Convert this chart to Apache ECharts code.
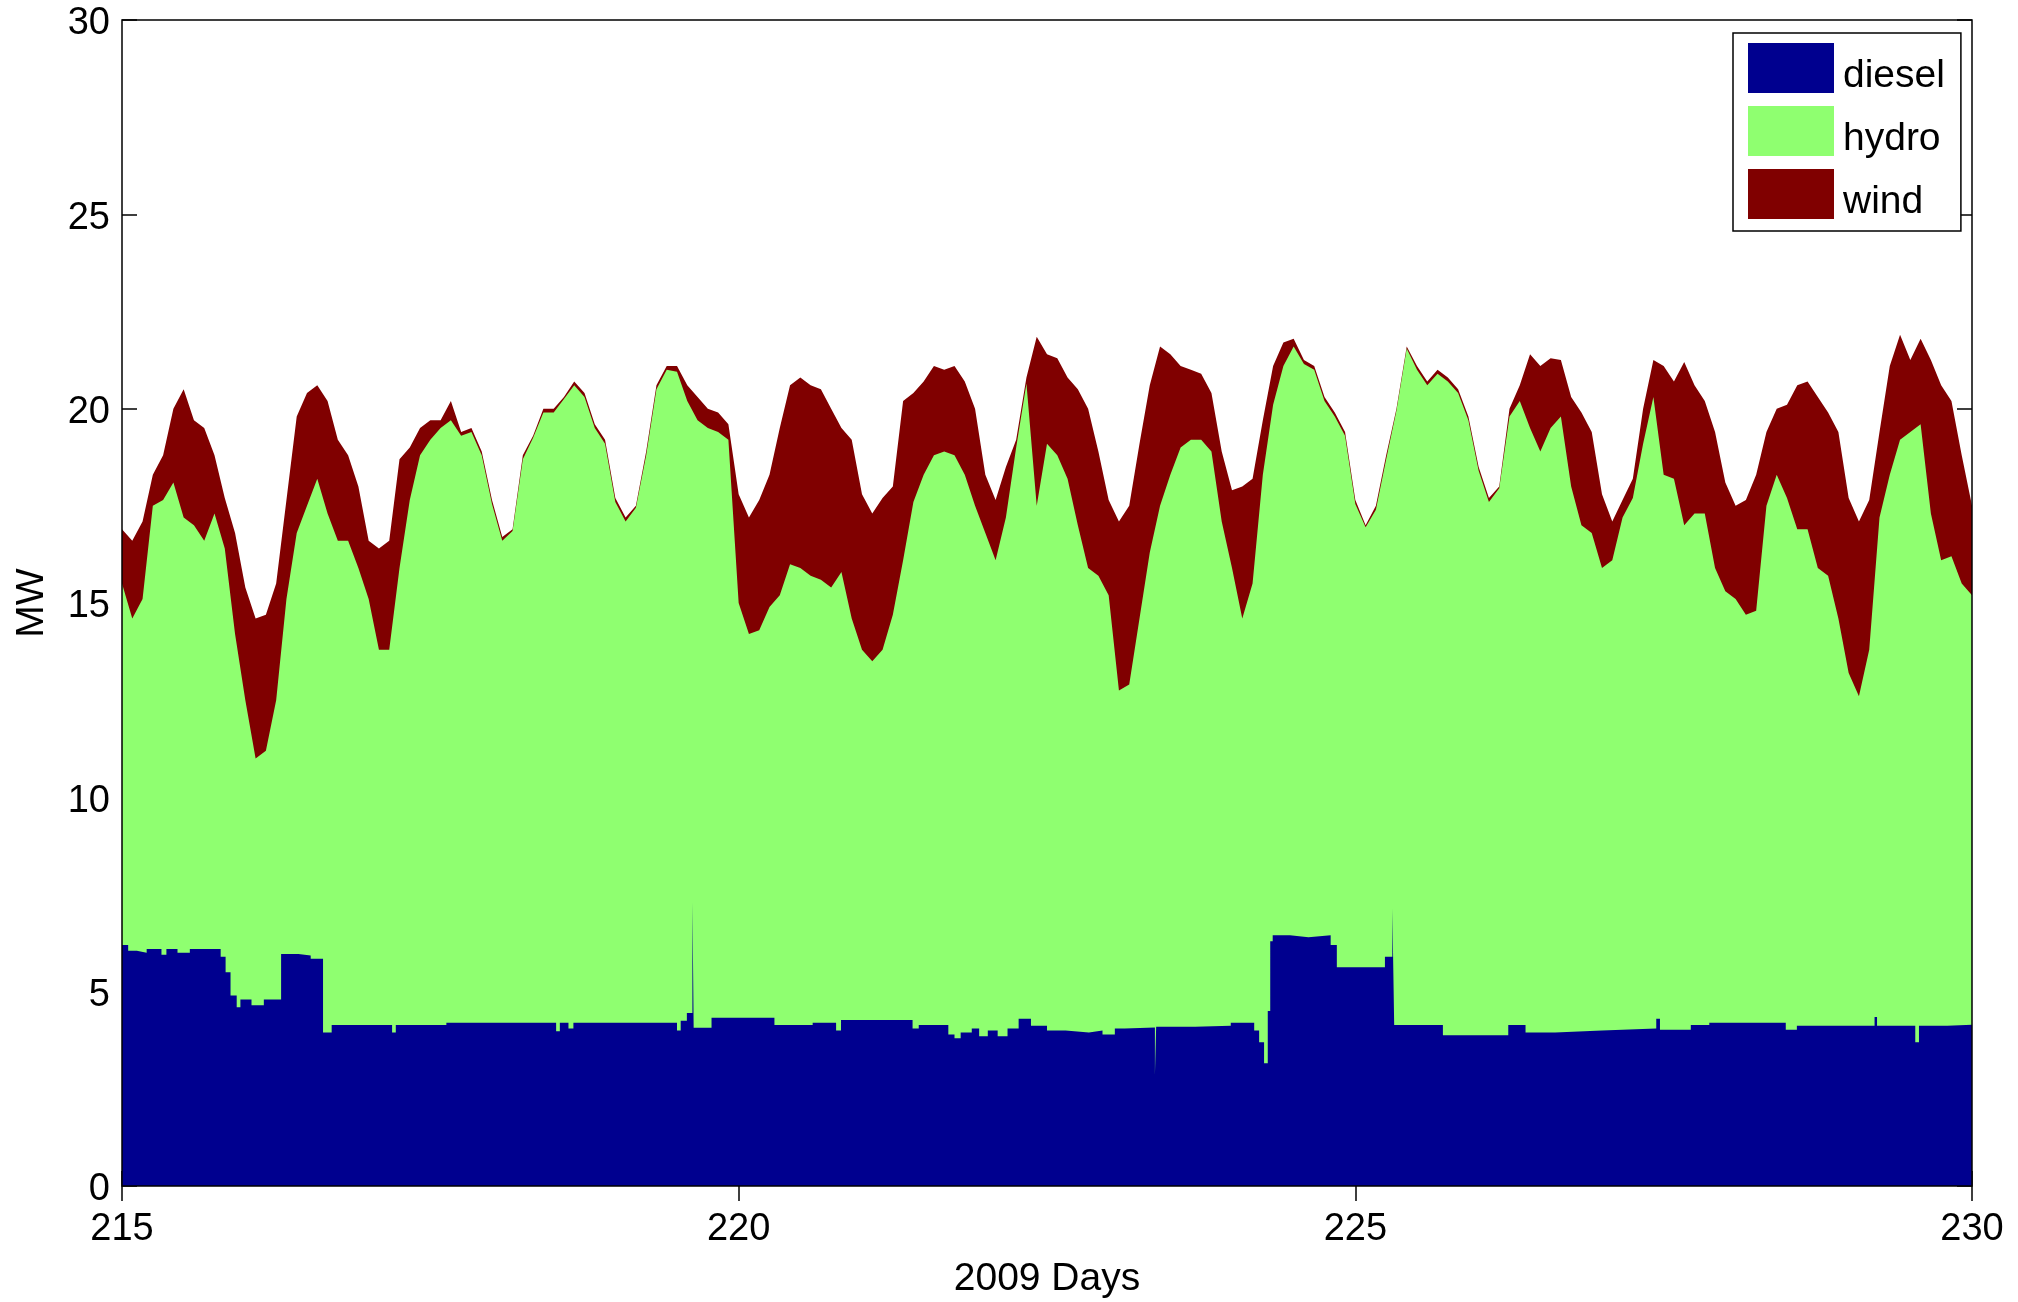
<!DOCTYPE html>
<html>
<head>
<meta charset="utf-8">
<script src="https://cdn.jsdelivr.net/npm/echarts@6/dist/echarts.min.js"></script>
<style>
html,body{margin:0;padding:0;background:#fff;}
#chart{width:2018px;height:1302px;}
</style>
</head>
<body>
<div id="chart"></div>
<script>
// ---- Data ----
const seriesNames = ['diesel', 'hydro', 'wind'];
const xTicks = [215, 220, 225, 230];
const yTicks = [0, 5, 10, 15, 20, 25, 30];

// sampling of the stacked boundaries: every 2 hours from day 215 to day 230
const startDay = 215;
const stepDay = 1 / 12;

// top of the stack (diesel + hydro + wind), MW
const totalMW = [
  16.9, 16.6, 17.1, 18.3, 18.8, 20.0, 20.5, 19.7, 19.5, 18.8, 17.7, 16.8, 15.4, 14.6, 14.7, 15.5, 17.65, 19.8, 20.4, 20.6, 20.2, 19.2, 18.8, 18.0, 16.6, 16.4, 16.6, 18.7, 19.0, 19.5, 19.7, 19.7, 20.2, 19.4, 19.5, 18.9,
  17.65, 16.7, 16.9, 18.8, 19.3, 20.0, 20.0, 20.3, 20.7, 20.4, 19.6, 19.2, 17.7, 17.2, 17.5, 18.9, 20.6, 21.1, 21.1, 20.6, 20.3, 20.0, 19.9, 19.6, 17.8, 17.2, 17.65, 18.3, 19.5, 20.6, 20.8, 20.6, 20.5, 20.0, 19.5, 19.2,
  17.8, 17.3, 17.7, 18.0, 20.2, 20.4, 20.7, 21.1, 21.0, 21.1, 20.7, 20.0, 18.3, 17.65, 18.5, 19.2, 20.8, 21.85, 21.4, 21.3, 20.8, 20.5, 20.0, 18.9, 17.65, 17.1, 17.5, 19.1, 20.6, 21.6, 21.4, 21.1, 21.0, 20.9, 20.4, 18.9,
  17.9, 18.0, 18.2, 19.7, 21.1, 21.7, 21.8, 21.25, 21.1, 20.3, 19.9, 19.4, 17.65, 17.0, 17.5, 18.8, 20.0, 21.6, 21.1, 20.7, 21.0, 20.8, 20.5, 19.8, 18.5, 17.7, 18.0, 20.0, 20.6, 21.4, 21.1, 21.3, 21.25, 20.3, 19.9, 19.4,
  17.8, 17.1, 17.65, 18.2, 20.0, 21.25, 21.1, 20.7, 21.2, 20.6, 20.2, 19.4, 18.1, 17.5, 17.65, 18.3, 19.4, 20.0, 20.1, 20.6, 20.7, 20.3, 19.9, 19.4, 17.7, 17.1, 17.65, 19.4, 21.1, 21.9, 21.25, 21.8, 21.25, 20.6, 20.2, 18.8, 17.5
];

// top of the hydro layer (diesel + hydro), MW
const dieselPlusHydroMW = [
  15.5, 14.6, 15.1, 17.5, 17.65, 18.1, 17.2, 17.0, 16.6, 17.3, 16.4, 14.2, 12.5, 11.0, 11.2, 12.5, 15.1, 16.8, 17.5, 18.2, 17.3, 16.6, 16.6, 15.9, 15.1, 13.8, 13.8, 15.9, 17.65, 18.8, 19.2, 19.5, 19.7, 19.3, 19.4, 18.8,
  17.55, 16.6, 16.85, 18.7, 19.25, 19.9, 19.9, 20.25, 20.6, 20.3, 19.5, 19.1, 17.6, 17.1, 17.45, 18.8, 20.5, 21.0, 20.95, 20.2, 19.7, 19.5, 19.4, 19.2, 15.0, 14.2, 14.3, 14.9, 15.2, 16.0, 15.9, 15.7, 15.6, 15.4, 15.8, 14.6,
  13.8, 13.5, 13.8, 14.7, 16.1, 17.6, 18.3, 18.8, 18.9, 18.8, 18.3, 17.5, 16.8, 16.1, 17.2, 19.0, 20.65, 17.5, 19.1, 18.8, 18.2, 17.0, 15.9, 15.7, 15.2, 12.75, 12.9, 14.6, 16.3, 17.5, 18.3, 19.0, 19.2, 19.2, 18.9, 17.1,
  15.9, 14.6, 15.5, 18.3, 20.1, 21.1, 21.6, 21.15, 21.0, 20.2, 19.8, 19.3, 17.55, 16.95, 17.4, 18.7, 19.95, 21.55, 21.0, 20.6, 20.9, 20.7, 20.4, 19.7, 18.4, 17.6, 17.95, 19.8, 20.2, 19.5, 18.9, 19.5, 19.8, 18.0, 17.0, 16.8,
  15.9, 16.1, 17.2, 17.7, 19.1, 20.3, 18.3, 18.2, 17.0, 17.3, 17.3, 15.9, 15.3, 15.1, 14.7, 14.8, 17.5, 18.3, 17.7, 16.9, 16.9, 15.9, 15.7, 14.6, 13.2, 12.6, 13.8, 17.2, 18.3, 19.2, 19.4, 19.6, 17.3, 16.1, 16.2, 15.5, 15.2
];

// diesel output: change points (day, MW); each value holds until the next day
const dieselDays = [
  215.00, 215.05, 215.12, 215.20, 215.32, 215.36, 215.45, 215.55, 215.80, 215.84, 215.88, 215.93, 215.96, 216.05, 216.15,
  216.29, 216.43, 216.53, 216.63, 216.70, 217.19, 217.22, 217.63, 218.52, 218.55, 218.62, 218.66, 219.50, 219.53, 219.58,
  219.625, 219.635, 219.78, 220.29, 220.60, 220.79, 220.83, 221.41, 221.46, 221.70, 221.75, 221.80, 221.89, 221.95, 222.02,
  222.10, 222.18, 222.27, 222.37, 222.50, 222.65, 222.84, 222.95, 223.05, 223.13, 223.375, 223.385, 223.70, 223.99, 224.18,
  224.22, 224.26, 224.29, 224.31, 224.33, 224.47, 224.62, 224.80, 224.85, 225.24, 225.30, 225.315, 225.71, 226.24, 226.38,
  226.62, 227.00, 227.44, 227.47, 227.72, 227.87, 228.49, 228.58, 229.21, 229.23, 229.54, 229.57, 229.80, 230.00
];
const dieselMW = [
  6.2, 6.05, 6.0, 6.1, 5.95, 6.1, 6.0, 6.1, 5.9, 5.5, 4.9, 4.6, 4.8, 4.65, 4.8,
  5.97, 5.93, 5.85, 3.95, 4.14, 3.95, 4.14, 4.2, 3.98, 4.2, 4.05, 4.2, 4.0, 4.25, 4.45,
  7.3, 4.07, 4.33, 4.14, 4.2, 4.0, 4.27, 4.05, 4.14, 3.9, 3.8, 3.95, 4.05, 3.85, 4.0,
  3.85, 4.05, 4.3, 4.12, 4.0, 3.95, 4.0, 3.9, 4.05, 4.08, 2.86, 4.1, 4.12, 4.2, 4.0,
  3.7, 3.16, 4.5, 6.3, 6.45, 6.4, 6.45, 6.2, 5.63, 5.9, 7.14, 4.14, 3.88, 4.14, 3.95,
  4.0, 4.05, 4.3, 4.02, 4.14, 4.2, 4.02, 4.12, 4.35, 4.12, 3.7, 4.12, 4.15, 4.15
];

// ---- Build chart ----
const colors = { diesel: '#00008F', hydro: '#8FFF70', wind: '#800000' };
const FONT = "'Liberation Sans', Arial, Helvetica, sans-serif";

const days = totalMW.map((_, i) => startDay + i * stepDay);
const windData = days.map((d, i) => [d, totalMW[i]]);
const hydroData = days.map((d, i) => [d, dieselPlusHydroMW[i]]);
const dieselData = dieselDays.map((d, i) => [d, dieselMW[i]]);

function areaSeries(name, data, z, step) {
  return {
    name: name,
    type: 'line',
    data: data,
    step: step || false,
    z: z,
    color: colors[name],
    showSymbol: false,
    symbol: 'none',
    silent: true,
    lineStyle: { width: 0, color: colors[name] },
    itemStyle: { color: colors[name], borderWidth: 0 },
    areaStyle: { color: colors[name], opacity: 1 },
    animation: false
  };
}

const xBase = {
  type: 'value',
  min: xTicks[0],
  max: xTicks[xTicks.length - 1],
  interval: xTicks[1] - xTicks[0],
  splitLine: { show: false },
  axisLine: { show: false },
  axisTick: { show: true, inside: true, length: 15, lineStyle: { color: '#000', width: 1.5 } }
};
const yBase = {
  type: 'value',
  min: yTicks[0],
  max: yTicks[yTicks.length - 1],
  interval: yTicks[1] - yTicks[0],
  splitLine: { show: false },
  axisLine: { show: false },
  axisTick: { show: true, inside: true, length: 15, lineStyle: { color: '#000', width: 1.5 } }
};

const option = {
  animation: false,
  backgroundColor: '#fff',
  textStyle: { fontFamily: FONT, color: '#000' },
  grid: {
    left: 122, right: 46, top: 20, bottom: 116,
    containLabel: false,
    outerBoundsMode: 'none',
    show: true, borderColor: '#000', borderWidth: 1.5, z: 5,
    backgroundColor: 'transparent'
  },
  legend: {
    data: seriesNames,
    orient: 'vertical',
    left: 1733, top: 33,
    icon: 'rect',
    itemWidth: 86, itemHeight: 50, itemGap: 8,
    padding: [7.5, 16, 9.5, 15],
    backgroundColor: '#fff',
    borderColor: '#000', borderWidth: 1.5, borderRadius: 0,
    selectedMode: false,
    itemStyle: { borderWidth: 0 },
    formatter: '{t|{name}}',
    textStyle: {
      fontFamily: FONT, fontSize: 39, color: '#000',
      rich: { t: { fontFamily: FONT, fontSize: 39, color: '#000', lineHeight: 34, padding: [16, 0, 0, 4] } }
    },
    z: 10
  },
  xAxis: [
    Object.assign({}, xBase, {
      position: 'bottom',
      name: '2009 Days', nameLocation: 'middle', nameGap: 74,
      nameTextStyle: { fontFamily: FONT, fontSize: 39, color: '#000' },
      axisLabel: { show: true, margin: 25, fontFamily: FONT, fontSize: 38, color: '#000' }
    }),
    Object.assign({}, xBase, { position: 'top', axisLabel: { show: false } })
  ],
  yAxis: [
    Object.assign({}, yBase, {
      position: 'left',
      name: 'MW', nameLocation: 'middle', nameGap: 70,
      nameTextStyle: { fontFamily: FONT, fontSize: 39, color: '#000' },
      axisLabel: {
        show: true, margin: 12, fontFamily: FONT, fontSize: 38, color: '#000',
        formatter: '{v|{value}}',
        rich: { v: { fontFamily: FONT, fontSize: 38, color: '#000', lineHeight: 38, padding: [8, 0, 0, 0] } }
      }
    }),
    Object.assign({}, yBase, { position: 'right', axisLabel: { show: false } })
  ],
  series: [
    areaSeries('wind', windData, 2),
    areaSeries('hydro', hydroData, 3),
    areaSeries('diesel', dieselData, 4, 'end')
  ]
};

const chart = echarts.init(document.getElementById('chart'), null, { renderer: 'canvas' });
chart.setOption(option);
</script>
</body>
</html>
